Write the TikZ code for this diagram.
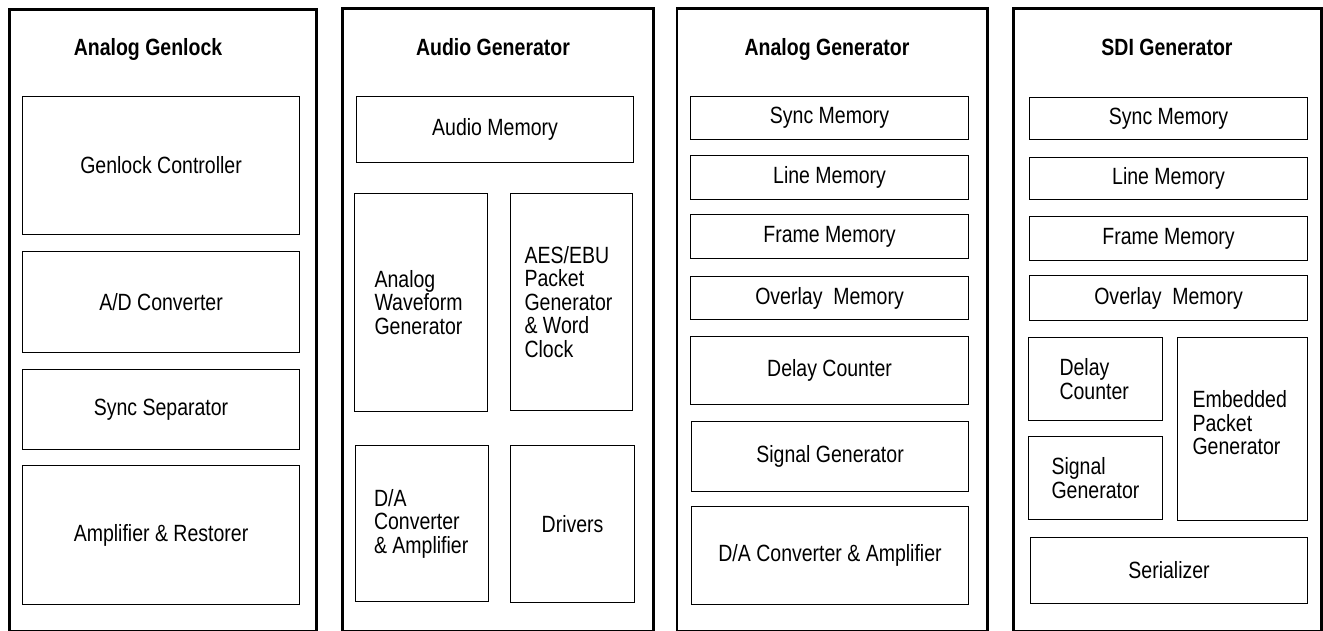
\documentclass[tikz,border=0pt]{standalone}
\usepackage{fontspec}
\setmainfont{Liberation Sans}[FakeStretch=0.83]
\begin{document}
\begin{tikzpicture}[x=1pt,y=-1pt,
  place/.style args={#1/#2/#3/#4}{anchor=north west, at={(#1,#2)},
     minimum width={(#3-#1)*1pt}, minimum height={(#4-#2)*1pt}},
  panel/.style={draw, line width=2.8pt, inner sep=0pt, place=#1},
  ibox/.style={draw, line width=1.1pt, inner sep=0pt, place=#1,
     font=\fontsize{23.5}{23.5}\selectfont},
  ltext/.style={align=flush left, text width=#1},
  ptitle/.style={font=\fontsize{23.5}{24}\selectfont\bfseries, inner sep=0pt, anchor=base}]
\useasboundingbox (0,0) rectangle (1323,631);

% Panels
\node[panel={8/8.3/315/629.5}] (p1) {};
\node[panel={341/7.3/651.7/629.5}] (p2) {};
\node[panel={675.5/7.3/986/629.5}] (p3) {};
\node[panel={1012.3/7.3/1320/629.5}] (p4) {};

% Titles
\node[ptitle] (t1) at (148,55.5) {Analog Genlock};
\node[ptitle] (t2) at (493,55.5) {Audio Generator};
\node[ptitle] (t3) at (827,55.5) {Analog Generator};
\node[ptitle] (t4) at (1167,55.5) {SDI Generator};

% Panel 1: Analog Genlock
\node[ibox={22/96/299/234}] (gc) {Genlock Controller};
\node[ibox={22/251/299/352}] (ad) {A/D Converter};
\node[ibox={22/369/299/449}] (ss) {Sync Separator};
\node[ibox={22/465/299/604}] (ar) {Amplifier \& Restorer};

% Panel 2: Audio Generator
\node[ibox={354/193/487/411}, ltext=93pt] (aw) {Analog\\Waveform\\Generator};
\node[ibox={356/96/633/162}] (am) {Audio Memory};
\node[ibox={510/193/632/410}, ltext=94pt] (aes) {AES/EBU\\Packet\\Generator\\\& Word\\Clock};
\node[ibox={355/445/488/601}, ltext=96pt] (da) {D/A\\Converter\\\& Amplifier};
\node[ibox={510/445/634/602}] (dr) {Drivers};

% Panel 3: Analog Generator
\node[ibox={690/96/968/139}] (sm3) {Sync Memory};
\node[ibox={690/155/968/199}] (lm3) {Line Memory};
\node[ibox={690/214/968/258}] (fm3) {Frame Memory};
\node[ibox={690/276/968/319}] (om3) {Overlay~ Memory};
\node[ibox={690/336/968/404}] (dc3) {Delay Counter};
\node[ibox={691/421/968/491}] (sg3) {Signal Generator};
\node[ibox={691/506/968/604}] (dac3) {D/A Converter \& Amplifier};

% Panel 4: SDI Generator
\node[ibox={1029/97/1307/139}] (sm4) {Sync Memory};
\node[ibox={1029/157/1307/199}] (lm4) {Line Memory};
\node[ibox={1029/216/1307/260}] (fm4) {Frame Memory};
\node[ibox={1029/275/1307/320}] (om4) {Overlay~ Memory};
\node[ibox={1028/337/1162/420}, ltext=72pt] (dc4) {Delay\\Counter};
\node[ibox={1028/436/1162/519}, ltext=88pt] (sg4) {Signal\\Generator};
\node[ibox={1177/337/1307/520}] (ep4) {};
\node[ltext=100pt, font=\fontsize{23.5}{23.5}\selectfont, inner sep=0pt] (ept) at ([yshift=6pt]ep4.center) {Embedded\\Packet\\Generator};
\node[ibox={1030/537/1307/603}] (se4) {Serializer};
\end{tikzpicture}
\end{document}
